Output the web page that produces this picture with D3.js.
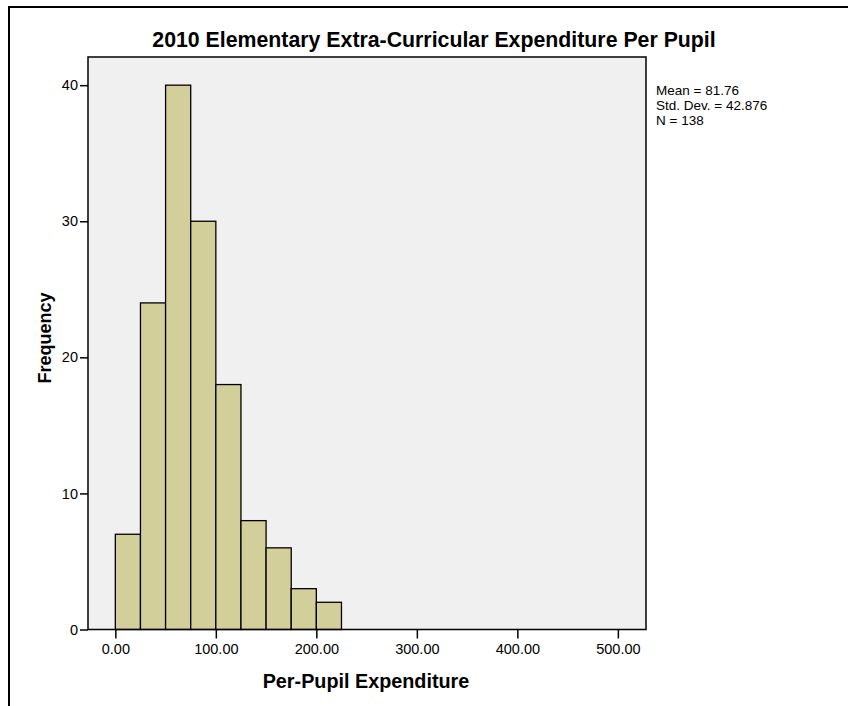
<!DOCTYPE html>
<html>
<head>
<meta charset="utf-8">
<script src="https://cdn.jsdelivr.net/npm/d3@7/dist/d3.min.js"></script>
<style>
  html, body { margin: 0; padding: 0; background: #fff; }
  svg { display: block; font-family: "Liberation Sans", Arial, sans-serif; }
</style>
</head>
<body>
<svg id="chart" width="848" height="706"></svg>
<script>
// ---- Data ----
const binStarts = [0, 25, 50, 75, 100, 125, 150, 175, 200];
const binWidth = 25;
const frequencies = [7, 24, 40, 30, 18, 8, 6, 3, 2];
const xTickValues = [0, 100, 200, 300, 400, 500];
const yTickValues = [0, 10, 20, 30, 40];
const statsLines = ["Mean = 81.76", "Std. Dev. = 42.876", "N = 138"];
const titleText = "2010 Elementary Extra-Curricular Expenditure Per Pupil";
const xLabelText = "Per-Pupil Expenditure";
const yLabelText = "Frequency";

// ---- Layout ----
const svg = d3.select("#chart");
const plot = { left: 88, top: 57, right: 646, bottom: 629.5 };

const x = d3.scaleLinear().domain([-27.2, 528]).range([plot.left, plot.right]);
const y = d3.scaleLinear().domain([0, 42.07]).range([plot.bottom, plot.top]);

// outer frame (partially visible)
svg.append("line").attr("x1", 8).attr("x2", 848).attr("y1", 7).attr("y2", 7)
  .attr("stroke", "#000").attr("stroke-width", 2);
svg.append("line").attr("x1", 9).attr("x2", 9).attr("y1", 6).attr("y2", 706)
  .attr("stroke", "#000").attr("stroke-width", 2);

// plot background
svg.append("rect")
  .attr("x", plot.left).attr("y", plot.top)
  .attr("width", plot.right - plot.left).attr("height", plot.bottom - plot.top)
  .attr("fill", "#f0f0f0");

// bars
svg.append("g").selectAll("rect")
  .data(binStarts.map((s, i) => ({ s, f: frequencies[i] })))
  .join("rect")
  .attr("x", d => x(d.s))
  .attr("width", d => x(d.s + binWidth) - x(d.s))
  .attr("y", d => y(d.f))
  .attr("height", d => y(0) - y(d.f))
  .attr("fill", "#d3cf9b")
  .attr("stroke", "#000")
  .attr("stroke-width", 1.3);

// plot frame
svg.append("rect")
  .attr("x", plot.left).attr("y", plot.top)
  .attr("width", plot.right - plot.left).attr("height", plot.bottom - plot.top)
  .attr("fill", "none").attr("stroke", "#000").attr("stroke-width", 1.5);

// x axis
const xAxis = d3.axisBottom(x).tickValues(xTickValues).tickFormat(d3.format(".2f"))
  .tickSize(9).tickPadding(5);
const gx = svg.append("g").attr("transform", `translate(0,${plot.bottom})`).call(xAxis);
gx.select(".domain").remove();
gx.selectAll(".tick line").attr("stroke", "#000").attr("stroke-width", 1.5);
gx.selectAll(".tick text").attr("font-size", 14.5).attr("fill", "#000")
  .attr("font-family", "Liberation Sans, Arial, sans-serif");

// y axis
const yAxis = d3.axisLeft(y).tickValues(yTickValues).tickFormat(d3.format("d"))
  .tickSize(8).tickPadding(2);
const gy = svg.append("g").attr("transform", `translate(${plot.left},0)`).call(yAxis);
gy.select(".domain").remove();
gy.selectAll(".tick line").attr("stroke", "#000").attr("stroke-width", 1.5);
gy.selectAll(".tick text").attr("font-size", 14.5).attr("fill", "#000")
  .attr("font-family", "Liberation Sans, Arial, sans-serif");

// title
svg.append("text")
  .attr("x", 434).attr("y", 47)
  .attr("text-anchor", "middle")
  .attr("font-size", 21.3).attr("font-weight", "bold")
  .text(titleText);

// x label
svg.append("text")
  .attr("x", 366).attr("y", 688)
  .attr("text-anchor", "middle")
  .attr("font-size", 19.8).attr("font-weight", "bold")
  .text(xLabelText);

// y label
svg.append("text")
  .attr("transform", "translate(51,338) rotate(-90)")
  .attr("text-anchor", "middle")
  .attr("font-size", 18).attr("font-weight", "bold")
  .text(yLabelText);

// stats
svg.append("g").selectAll("text")
  .data(statsLines)
  .join("text")
  .attr("x", 656)
  .attr("y", (d, i) => 95 + i * 15)
  .attr("font-size", 13.5)
  .text(d => d);
</script>
</body>
</html>
